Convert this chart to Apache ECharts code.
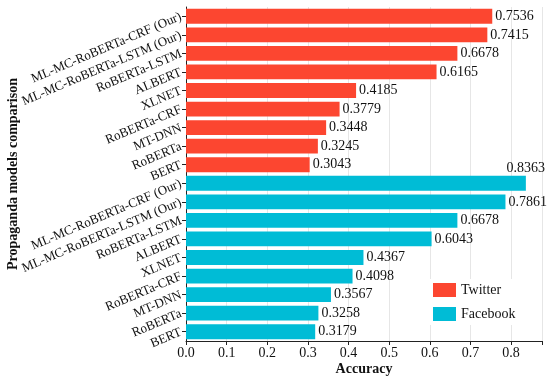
<!DOCTYPE html>
<html>
<head>
<meta charset="utf-8">
<script src="https://cdn.jsdelivr.net/npm/echarts@6/dist/echarts.min.js"></script>
<style>
  html, body { margin: 0; padding: 0; background: #fff; }
  #chart { width: 550px; height: 380px; }
</style>
</head>
<body>
<div id="chart"></div>
<script>
const models = [
  "ML-MC-RoBERTa-CRF (Our)",
  "ML-MC-RoBERTa-LSTM (Our)",
  "RoBERTa-LSTM",
  "ALBERT",
  "XLNET",
  "RoBERTa-CRF",
  "MT-DNN",
  "RoBERTa",
  "BERT",
];
const twitter = [0.7536, 0.7415, 0.6678, 0.6165, 0.4185, 0.3779, 0.3448, 0.3245, 0.3043];
const facebook = [0.8363, 0.7861, 0.6678, 0.6043, 0.4367, 0.4098, 0.3567, 0.3258, 0.3179];
const xTicks = [0, 0.1, 0.2, 0.3, 0.4, 0.5, 0.6, 0.7, 0.8];

// categories: twitter block first, facebook block below
const categories = models.concat(models);
const blank = models.map(() => "-");

const font = "'Liberation Serif', 'DejaVu Serif', serif";

const fbData = facebook.map((v, i) => {
  if (v !== Math.max(...facebook)) return v;
  // top value is drawn above the bar
  return {
    value: v,
    label: { position: ["100%", -1], align: "center", verticalAlign: "bottom", distance: 0 },
  };
});

const chart = echarts.init(document.getElementById("chart"));
chart.setOption({
  animation: false,
  textStyle: { fontFamily: font },
  grid: { left: 186, right: 8, top: 7, bottom: 39, containLabel: false, outerBoundsMode: "none" },
  legend: {
    data: ["Twitter", "Facebook"],
    orient: "vertical",
    left: 429,
    top: 279,
    icon: "rect",
    itemWidth: 23,
    itemHeight: 14,
    itemGap: 10,
    padding: [4, 6, 4, 4],
    backgroundColor: "#fff",
    textStyle: { fontFamily: font, fontSize: 14, color: "#111" },
  },
  xAxis: {
    type: "value",
    min: 0,
    max: 0.876,
    interval: 0.1,
    name: "Accuracy",
    nameLocation: "middle",
    nameGap: 21,
    nameMoveOverlap: false,
    nameTextStyle: { fontFamily: font, fontSize: 14, fontWeight: "bold", color: "#111" },
    axisLine: { show: true, lineStyle: { color: "#222", width: 1 } },
    axisTick: { show: true, length: 4, lineStyle: { color: "#222" } },
    axisLabel: {
      fontFamily: font, fontSize: 14, color: "#111", margin: 5,
      formatter: (v) => (xTicks.includes(Math.round(v * 10) / 10) ? v.toFixed(1) : ""),
    },
    splitLine: { show: true, lineStyle: { color: "#e6e6e6" } },
  },
  yAxis: {
    type: "category",
    inverse: true,
    data: categories,
    name: "Propaganda models comparison",
    nameLocation: "middle",
    nameGap: 166,
    nameMoveOverlap: false,
    nameTextStyle: { fontFamily: font, fontSize: 14, fontWeight: "bold", color: "#111" },
    axisLine: { show: true, lineStyle: { color: "#222", width: 1 } },
    axisTick: { show: true, length: 4, alignWithLabel: true, lineStyle: { color: "#222" } },
    axisLabel: { fontFamily: font, fontSize: 13, color: "#111", rotate: 23, margin: 5, interval: 0 },
  },
  series: [
    {
      name: "Twitter",
      type: "bar",
      stack: "all",
      barWidth: "80%",
      itemStyle: { color: "#FC4630" },
      label: { show: true, position: "right", distance: 3, fontFamily: font, fontSize: 14, color: "#111" },
      data: twitter.concat(blank),
    },
    {
      name: "Facebook",
      type: "bar",
      stack: "all",
      barWidth: "80%",
      itemStyle: { color: "#00BCD6" },
      label: { show: true, position: "right", distance: 3, fontFamily: font, fontSize: 14, color: "#111" },
      data: blank.concat(fbData),
    },
  ],
});
</script>
</body>
</html>
